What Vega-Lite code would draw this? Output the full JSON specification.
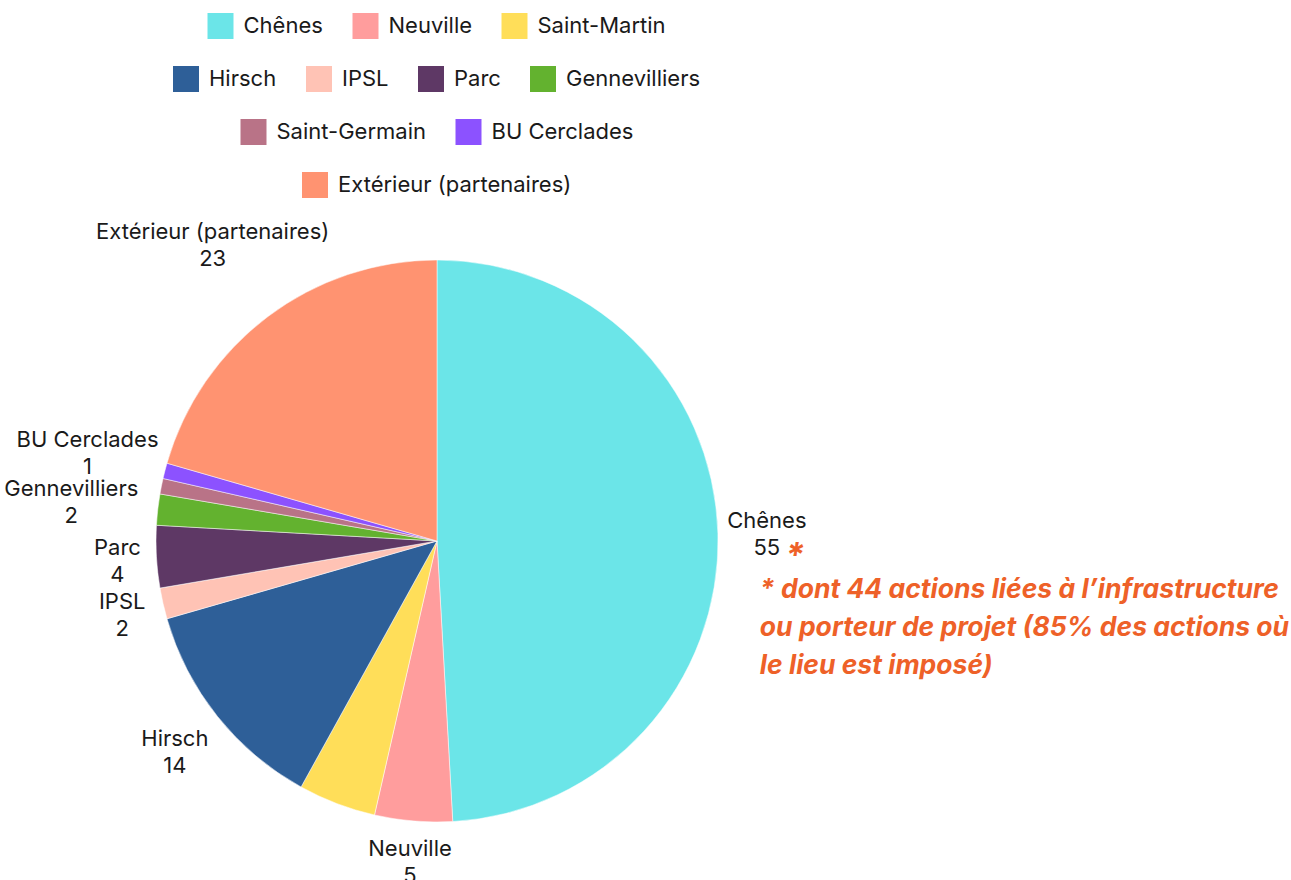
{
  "$schema": "https://vega.github.io/schema/vega-lite/v6.json",
  "width": 874,
  "height": 562,
  "autosize": {"type": "none"},
  "padding": {"left": 0, "top": 260, "right": 417, "bottom": 58},
  "background": "white",
  "data": {
    "values": [
      {"lieu": "Chênes", "value": 55, "ord": 1},
      {"lieu": "Neuville", "value": 5, "ord": 2},
      {"lieu": "Saint-Martin", "value": 5, "ord": 3},
      {"lieu": "Hirsch", "value": 14, "ord": 4},
      {"lieu": "IPSL", "value": 2, "ord": 5},
      {"lieu": "Parc", "value": 4, "ord": 6},
      {"lieu": "Gennevilliers", "value": 2, "ord": 7},
      {"lieu": "Saint-Germain", "value": 1, "ord": 8},
      {"lieu": "BU Cerclades", "value": 1, "ord": 9},
      {"lieu": "Extérieur (partenaires)", "value": 23, "ord": 10}
    ]
  },
  "transform": [
    {"stack": "value", "groupby": [], "sort": [{"field": "ord", "order": "ascending"}], "as": ["v0", "v1"]}
  ],
  "layer": [
    {
      "transform": [{"filter": {"field": "lieu", "oneOf": ["Chênes", "Neuville", "Saint-Martin"]}}],
      "mark": {"type": "arc", "stroke": "#ffffff", "strokeWidth": 0.5},
      "encoding": {
        "theta": {"field": "v0", "type": "quantitative", "scale": {"domain": [0, 112], "nice": false}},
        "theta2": {"field": "v1"},
        "color": {"field": "lieu", "type": "nominal", "legend": {"title": null},
          "scale": {"domain": ["Chênes", "Neuville", "Saint-Martin"], "range": ["#6be5e8", "#ff9d9d", "#ffde59"]}}
      }
    },
    {
      "transform": [{"filter": {"field": "lieu", "oneOf": ["Hirsch", "IPSL", "Parc", "Gennevilliers"]}}],
      "mark": {"type": "arc", "stroke": "#ffffff", "strokeWidth": 0.5},
      "encoding": {
        "theta": {"field": "v0", "type": "quantitative", "scale": {"domain": [0, 112], "nice": false}},
        "theta2": {"field": "v1"},
        "color": {"field": "lieu", "type": "nominal", "legend": {"title": null},
          "scale": {"domain": ["Hirsch", "IPSL", "Parc", "Gennevilliers"], "range": ["#2e5f98", "#ffc3b5", "#5e3865", "#63b22f"]}}
      }
    },
    {
      "transform": [{"filter": {"field": "lieu", "oneOf": ["Saint-Germain", "BU Cerclades"]}}],
      "mark": {"type": "arc", "stroke": "#ffffff", "strokeWidth": 0.5},
      "encoding": {
        "theta": {"field": "v0", "type": "quantitative", "scale": {"domain": [0, 112], "nice": false}},
        "theta2": {"field": "v1"},
        "color": {"field": "lieu", "type": "nominal", "legend": {"title": null},
          "scale": {"domain": ["Saint-Germain", "BU Cerclades"], "range": ["#b97387", "#8c52ff"]}}
      }
    },
    {
      "transform": [{"filter": {"field": "lieu", "oneOf": ["Extérieur (partenaires)"]}}],
      "mark": {"type": "arc", "stroke": "#ffffff", "strokeWidth": 0.5},
      "encoding": {
        "theta": {"field": "v0", "type": "quantitative", "scale": {"domain": [0, 112], "nice": false}},
        "theta2": {"field": "v1"},
        "color": {"field": "lieu", "type": "nominal", "legend": {"title": null},
          "scale": {"domain": ["Extérieur (partenaires)"], "range": ["#ff9371"]}}
      }
    },
    {
      "mark": {"type": "text", "font": "Inter", "fontSize": 22, "color": "#1a1a1a", "align": "center", "baseline": "middle", "dy": -11,
        "radius": {"expr": "297 + length(datum.lieu) * 5.5 * abs(sin(PI * (datum.v0 + datum.v1) / 112)) + (cos(PI * (datum.v0 + datum.v1) / 112) > 0 ? 0 : 20) * abs(cos(PI * (datum.v0 + datum.v1) / 112))"}},
      "encoding": {
        "theta": {"field": "value", "type": "quantitative", "stack": true},
        "order": {"field": "ord", "type": "quantitative"},
        "detail": {"field": "lieu", "type": "nominal"},
        "text": {"field": "lieu", "type": "nominal"},
        "opacity": {"condition": {"test": "datum.lieu === 'Saint-Martin' || datum.lieu === 'Saint-Germain'", "value": 0}, "value": 1}
      }
    },
    {
      "mark": {"type": "text", "font": "Inter", "fontSize": 22, "color": "#1a1a1a", "align": "center", "baseline": "middle", "dy": 16,
        "radius": {"expr": "297 + length(datum.lieu) * 5.5 * abs(sin(PI * (datum.v0 + datum.v1) / 112)) + (cos(PI * (datum.v0 + datum.v1) / 112) > 0 ? 0 : 20) * abs(cos(PI * (datum.v0 + datum.v1) / 112))"}},
      "encoding": {
        "theta": {"field": "value", "type": "quantitative", "stack": true},
        "order": {"field": "ord", "type": "quantitative"},
        "detail": {"field": "lieu", "type": "nominal"},
        "text": {"field": "value", "type": "quantitative"},
        "opacity": {"condition": {"test": "datum.lieu === 'Saint-Martin' || datum.lieu === 'Saint-Germain'", "value": 0}, "value": 1}
      }
    },
    {
      "mark": {"type": "text", "font": "Inter", "fontSize": 34, "fontWeight": "bold", "fontStyle": "italic", "color": "#ee6128", "align": "center", "baseline": "middle", "dx": 28, "dy": 25,
        "text": "*",
        "radius": {"expr": "297 + length(datum.lieu) * 5.5 * abs(sin(PI * (datum.v0 + datum.v1) / 112)) + (cos(PI * (datum.v0 + datum.v1) / 112) > 0 ? 0 : 20) * abs(cos(PI * (datum.v0 + datum.v1) / 112))"}},
      "encoding": {
        "theta": {"field": "value", "type": "quantitative", "stack": true},
        "order": {"field": "ord", "type": "quantitative"},
        "detail": {"field": "lieu", "type": "nominal"},
        "opacity": {"condition": {"test": "datum.lieu === 'Chênes'", "value": 1}, "value": 0}
      }
    },
    {
      "mark": {"type": "text", "font": "Inter", "fontSize": 26.5, "fontWeight": "bold", "fontStyle": "italic", "color": "#ee6128", "align": "left", "baseline": "middle", "dx": -7, "dy": 58, "lineHeight": 38,
        "text": ["* dont 44 actions liées à l’infrastructure", "ou porteur de projet (85% des actions où", "le lieu est imposé)"],
        "radius": {"expr": "297 + length(datum.lieu) * 5.5 * abs(sin(PI * (datum.v0 + datum.v1) / 112)) + (cos(PI * (datum.v0 + datum.v1) / 112) > 0 ? 0 : 20) * abs(cos(PI * (datum.v0 + datum.v1) / 112))"}},
      "encoding": {
        "theta": {"field": "value", "type": "quantitative", "stack": true},
        "order": {"field": "ord", "type": "quantitative"},
        "detail": {"field": "lieu", "type": "nominal"},
        "opacity": {"condition": {"test": "datum.lieu === 'Chênes'", "value": 1}, "value": 0}
      }
    }
  ],
  "resolve": {"scale": {"color": "independent"}, "legend": {"color": "independent"}},
  "config": {
    "view": {"stroke": null},
    "legend": {
      "orient": "top",
      "direction": "horizontal",
      "symbolType": "square",
      "symbolSize": 676,
      "symbolStrokeWidth": 0,
      "labelFont": "Inter",
      "labelFontSize": 22,
      "labelColor": "#1a1a1a",
      "labelOffset": 10,
      "columnPadding": 29,
      "labelLimit": 400,
      "offset": 62,
      "layout": {"top": {"anchor": "middle", "direction": "vertical", "center": true, "margin": 27}}
    }
  }
}
